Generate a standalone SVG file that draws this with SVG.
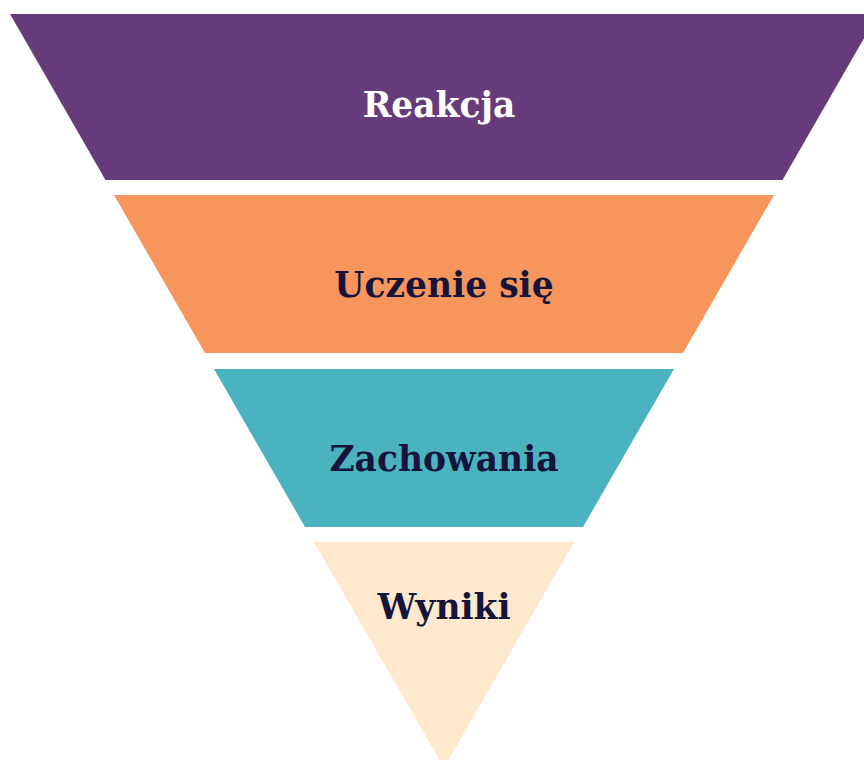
<svg xmlns="http://www.w3.org/2000/svg" width="864" height="760" viewBox="0 0 864 760">
<style>
.lbl{font-family:"DejaVu Serif","Liberation Serif",serif;font-weight:bold;font-size:34.5px;text-anchor:middle}
.dark{fill:#15143A}
.light{fill:#FFFFFF}
</style>
<rect width="864" height="760" fill="#FFFFFF"/>
<g id="reakcja">
<polygon points="10,14 878,14 782.5,180 105.5,180" fill="#663C7B"/>
<text class="lbl light" x="439" y="117">Reakcja</text>
</g>
<g id="uczenie">
<polygon points="114,195 774,195 683,353 205,353" fill="#F7965C"/>
<text class="lbl dark" x="444" y="297">Uczenie się</text>
</g>
<g id="zachowania">
<polygon points="214,369 674,369 583,527 305,527" fill="#4BB3C0"/>
<text class="lbl dark" x="444" y="471">Zachowania</text>
</g>
<g id="wyniki">
<polygon points="314,542 574,542 444,768" fill="#FFE9CE"/>
<text class="lbl dark" x="444" y="619">Wyniki</text>
</g>
<g id="connectors"></g>
</svg>
